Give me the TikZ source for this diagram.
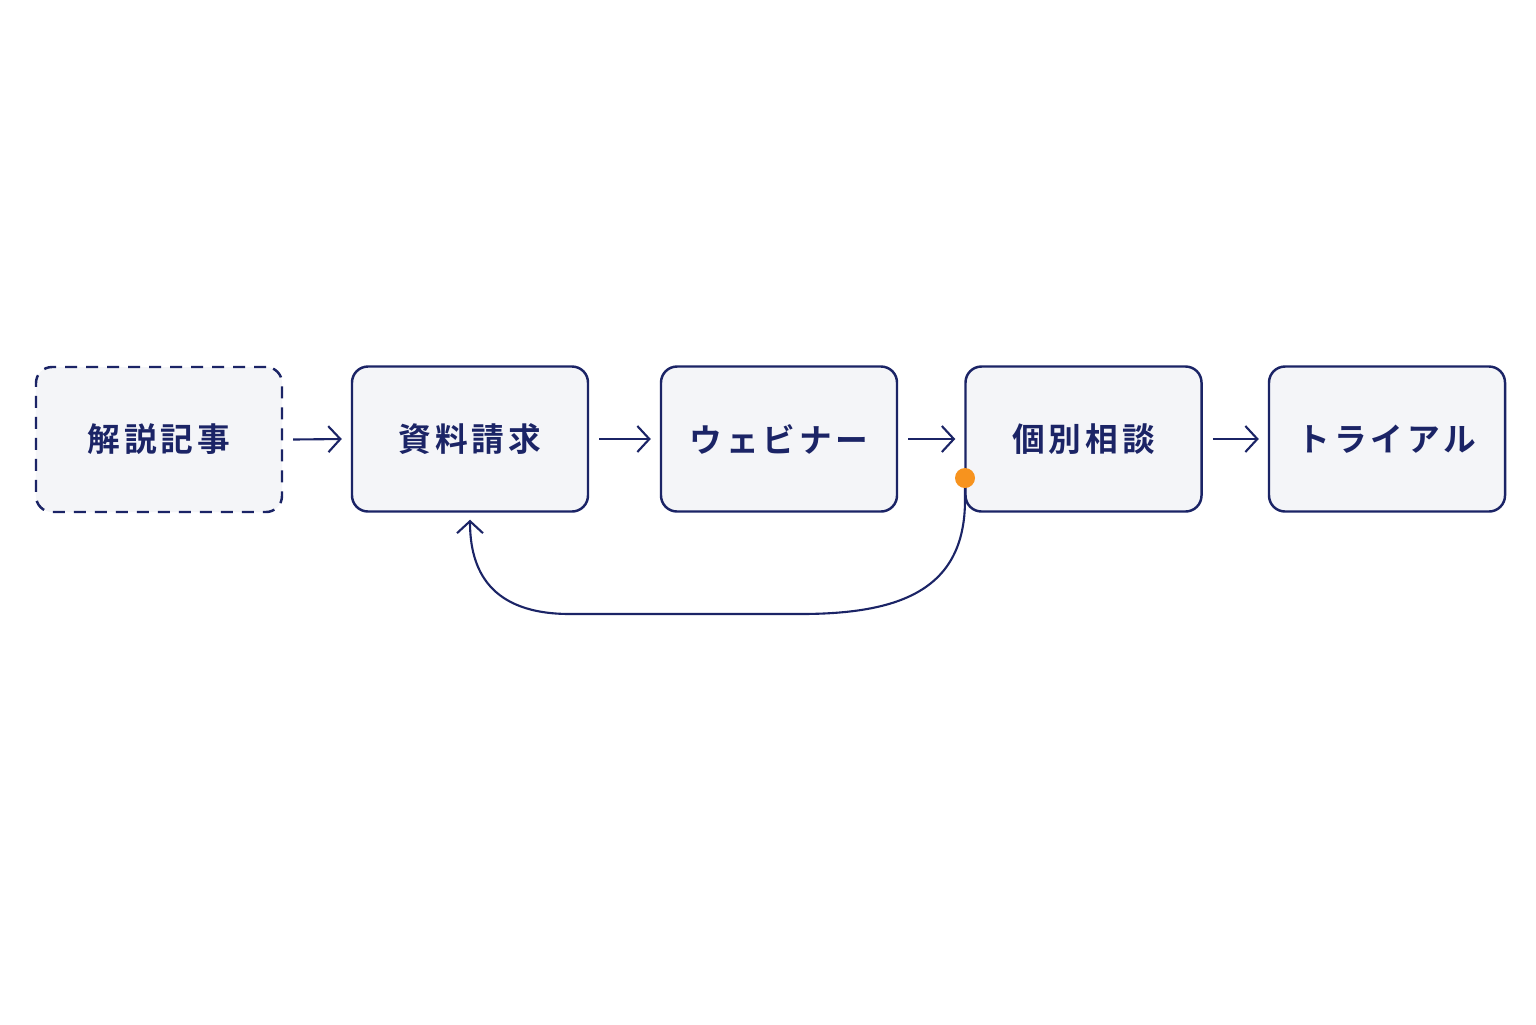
\documentclass[tikz,border=0pt]{standalone}
\usepackage{fontspec}
\newfontfamily\cjk[LetterSpace=12]{Noto Sans CJK JP Bold}
\usetikzlibrary{arrows.meta}
\definecolor{navy}{HTML}{1B2466}
\definecolor{boxfill}{HTML}{F4F5F8}
\definecolor{dotorange}{HTML}{F7931E}
\tikzset{
  stage/.style={draw=navy,fill=boxfill,line width=0.7pt,rounded corners=0.16cm,minimum width=2.36cm,minimum height=1.45cm,text=navy,font=\cjk\fontsize{9.3}{11}\selectfont},
  flow/.style={draw=navy,line width=0.6pt,-{Straight Barb[length=1.2mm,width=2.6mm]}}
}
\begin{document}
\begin{tikzpicture}
\useasboundingbox[fill=white] (0,0) rectangle (15.36,-10.24);
\node[stage,dashed,dash pattern=on 1.2mm off 0.9mm,minimum width=2.46cm] (kaisetsu) at (1.59,-4.395) {解説記事};
\node[stage] (shiryo) at (4.70,-4.39) {資料請求};
\node[stage] (webinar) at (7.79,-4.39) {ウェビナー};
\node[stage] (sodan) at (10.835,-4.39) {個別相談};
\node[stage] (trial) at (13.87,-4.39) {トライアル};
\draw[flow] ([xshift=1mm]kaisetsu.east) -- ([xshift=-0.9mm]shiryo.west);
\draw[flow] ([xshift=1mm]shiryo.east) -- ([xshift=-0.9mm]webinar.west);
\draw[flow] ([xshift=1mm]webinar.east) -- ([xshift=-0.9mm]sodan.west);
\draw[flow] ([xshift=1mm]sodan.east) -- ([xshift=-0.9mm]trial.west);
\coordinate (loopstart) at (9.65,-4.78);
\draw[flow] (loopstart) -- (9.65,-5.0) .. controls (9.65,-5.9) and (9.0,-6.14) .. (8.0,-6.14) -- (5.7,-6.14) .. controls (4.9,-6.14) and (4.70,-5.7) .. ([yshift=-0.7mm]shiryo.south);
\fill[dotorange] (loopstart) circle (0.1);
\end{tikzpicture}
\end{document}
